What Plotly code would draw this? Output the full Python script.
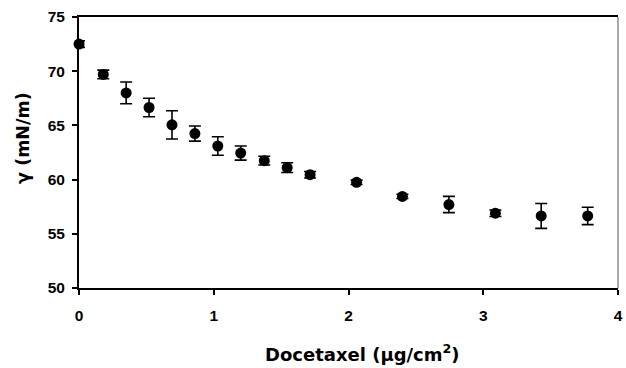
import plotly.graph_objects as go

docetaxel = [0.0, 0.18, 0.35, 0.52, 0.69, 0.86, 1.03, 1.20, 1.375, 1.545, 1.715, 2.06, 2.40, 2.745, 3.09, 3.43, 3.775]
gamma = [72.5, 69.7, 68.0, 66.65, 65.05, 64.25, 63.1, 62.45, 61.75, 61.1, 60.45, 59.75, 58.45, 57.7, 56.9, 56.65, 56.65]
gamma_err = [0.3, 0.4, 1.0, 0.85, 1.3, 0.7, 0.85, 0.65, 0.4, 0.45, 0.3, 0.2, 0.2, 0.75, 0.3, 1.15, 0.8]

x_ticks = [0, 1, 2, 3, 4]
y_ticks = [50, 55, 60, 65, 70, 75]
x_title = "<b>Docetaxel (μg/cm<sup>2</sup>)</b>"
y_title = "<b>γ (mN/m)</b>"

TICK_FONT = "Liberation Sans"
TITLE_FONT = "DejaVu Sans"

W, H = 626, 368
L, R, T, B = 78.5, 7.7, 16.7, 80.3

fig = go.Figure()
fig.add_trace(go.Scatter(
    x=docetaxel, y=gamma, mode="markers", cliponaxis=False,
    marker=dict(symbol="circle", size=11, color="black"),
    error_y=dict(type="data", array=gamma_err, visible=True,
                 color="black", thickness=1.6, width=6),
    showlegend=False,
))

pw = W - L - R
ph = H - T - B

fig.update_layout(
    width=W, height=H,
    margin=dict(l=L, r=R, t=T, b=B, autoexpand=False),
    paper_bgcolor="white", plot_bgcolor="white",
    font=dict(family=TICK_FONT, color="black", size=15),
    xaxis=dict(
        range=[0, 4], tickvals=x_ticks, ticktext=["<b>%d</b>" % v for v in x_ticks],
        showgrid=False, zeroline=False, automargin=False,
        showline=True, linecolor="black", linewidth=2, mirror=True,
        ticks="outside", ticklen=5, tickwidth=1.5, tickcolor="black",
        ticklabelstandoff=7, layer="below traces",
        tickfont=dict(size=15.5, family=TICK_FONT, color="black"),
    ),
    yaxis=dict(
        range=[50, 75], tickvals=y_ticks, ticktext=["<b>%d</b>" % v for v in y_ticks],
        showgrid=False, zeroline=False, automargin=False,
        showline=True, linecolor="black", linewidth=2,
        ticks="outside", ticklen=5, tickwidth=1.5, tickcolor="black",
        ticklabelstandoff=4, layer="below traces",
        tickfont=dict(size=15.5, family=TICK_FONT, color="black"),
    ),
    annotations=[
        dict(text=x_title, xref="paper", yref="paper",
             x=(362 - L) / pw, y=-(353 - (H - B)) / ph,
             xanchor="center", yanchor="middle", showarrow=False,
             font=dict(size=18, family=TITLE_FONT, color="black")),
        dict(text=y_title, xref="paper", yref="paper",
             x=(23 - L) / pw, y=1 - (138 - T) / ph,
             xanchor="center", yanchor="middle", showarrow=False, textangle=-90,
             font=dict(size=17.5, family=TITLE_FONT, color="black")),
    ],
    shapes=[dict(type="line", xref="paper", yref="paper", x0=1, x1=1, y0=0, y1=1,
                 line=dict(color="#555555", width=1))],
)

fig.write_html("out.html", config={"displayModeBar": False},
               post_script="document.body.style.margin='0px';")
